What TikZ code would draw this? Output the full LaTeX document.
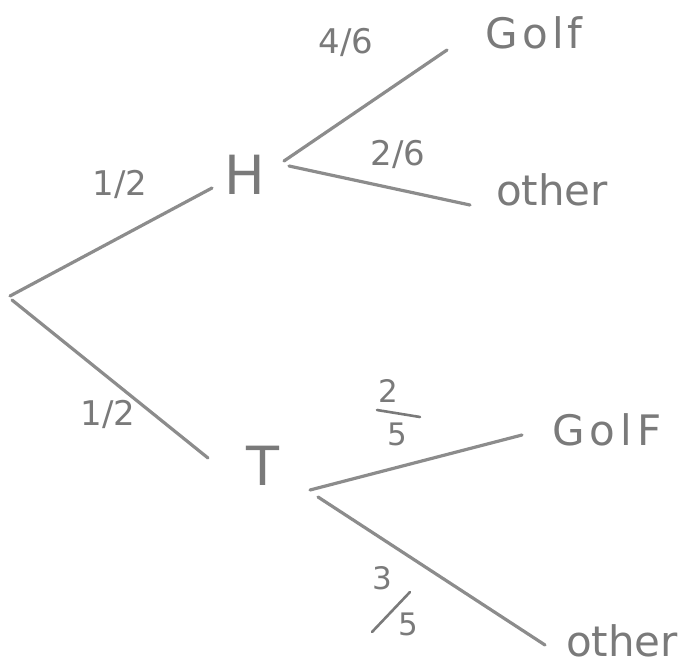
\documentclass[tikz,border=0pt]{standalone}
\usepackage{fontspec}
\setmainfont{DejaVu Sans}
\usetikzlibrary{calc}
\definecolor{pencil}{HTML}{8C8C8C}
\definecolor{penciltext}{HTML}{7A7A7A}
\tikzset{
  branch/.style={draw=pencil, line width=3.2pt, line cap=round},
  fracbar/.style={draw=penciltext, line width=2.6pt, line cap=round},
  word/.style={text=penciltext, font=\fontsize{42}{46}\selectfont, inner sep=0pt},
  letter/.style={text=penciltext, font=\fontsize{54}{58}\selectfont, inner sep=0pt},
  prob/.style={text=penciltext, font=\fontsize{34}{38}\selectfont, inner sep=0pt},
  digit/.style={text=penciltext, font=\fontsize{31}{33}\selectfont, inner sep=0pt}
}
\begin{document}
\begin{tikzpicture}[x=1pt,y=-1pt]
\useasboundingbox (0,0) rectangle (693,670);
% nodes
\coordinate (root) at (10,296);
\node[letter] (H) at (245,175) {H};
\node[letter] (T) at (263,466) {T};
\node[word] (G1) at (534,33) {\addfontfeature{LetterSpace=10}Golf};
\node[word] (O1) at (552,190) {other};
\node[word] (G2) at (607,430) {\addfontfeature{LetterSpace=12}GolF};
\node[word] (O2) at (622,641) {other};
% branches
\draw[branch] (root) -- ($(H)+(-33,13)$);
\draw[branch] ($(root)+(2,4)$) -- ($(T)+(-55,-8)$);
\draw[branch] ($(H)+(39,-14)$) -- ($(G1)+(-87,17)$);
\draw[branch] ($(H)+(44,-9)$) -- ($(O1)+(-82,15)$);
\draw[branch] ($(T)+(47,24)$) -- ($(G2)+(-85,5)$);
\draw[branch] ($(T)+(55,31)$) -- ($(O2)+(-77,4)$);
% probabilities
\node[prob] (p1) at (120,184) {1/2};
\node[prob] (p2) at (108,414) {1/2};
\node[prob] (p3) at (346,42) {4/6};
\node[prob] (p4) at (398,154) {2/6};
% 2/5 stacked
\node[digit] (p5n) at (388,391) {2};
\node[digit] (p5d) at (397,434) {5};
\draw[fracbar] ($(p5n)+(-11,19)$) -- ($(p5d)+(23,-17)$);
% 3/5 slashed
\node[digit] (p6n) at (382,578) {3};
\node[digit] (p6d) at (408,624) {5};
\draw[fracbar] ($(p6d)+(-36,8)$) -- ($(p6n)+(28,14)$);
\end{tikzpicture}
\end{document}
